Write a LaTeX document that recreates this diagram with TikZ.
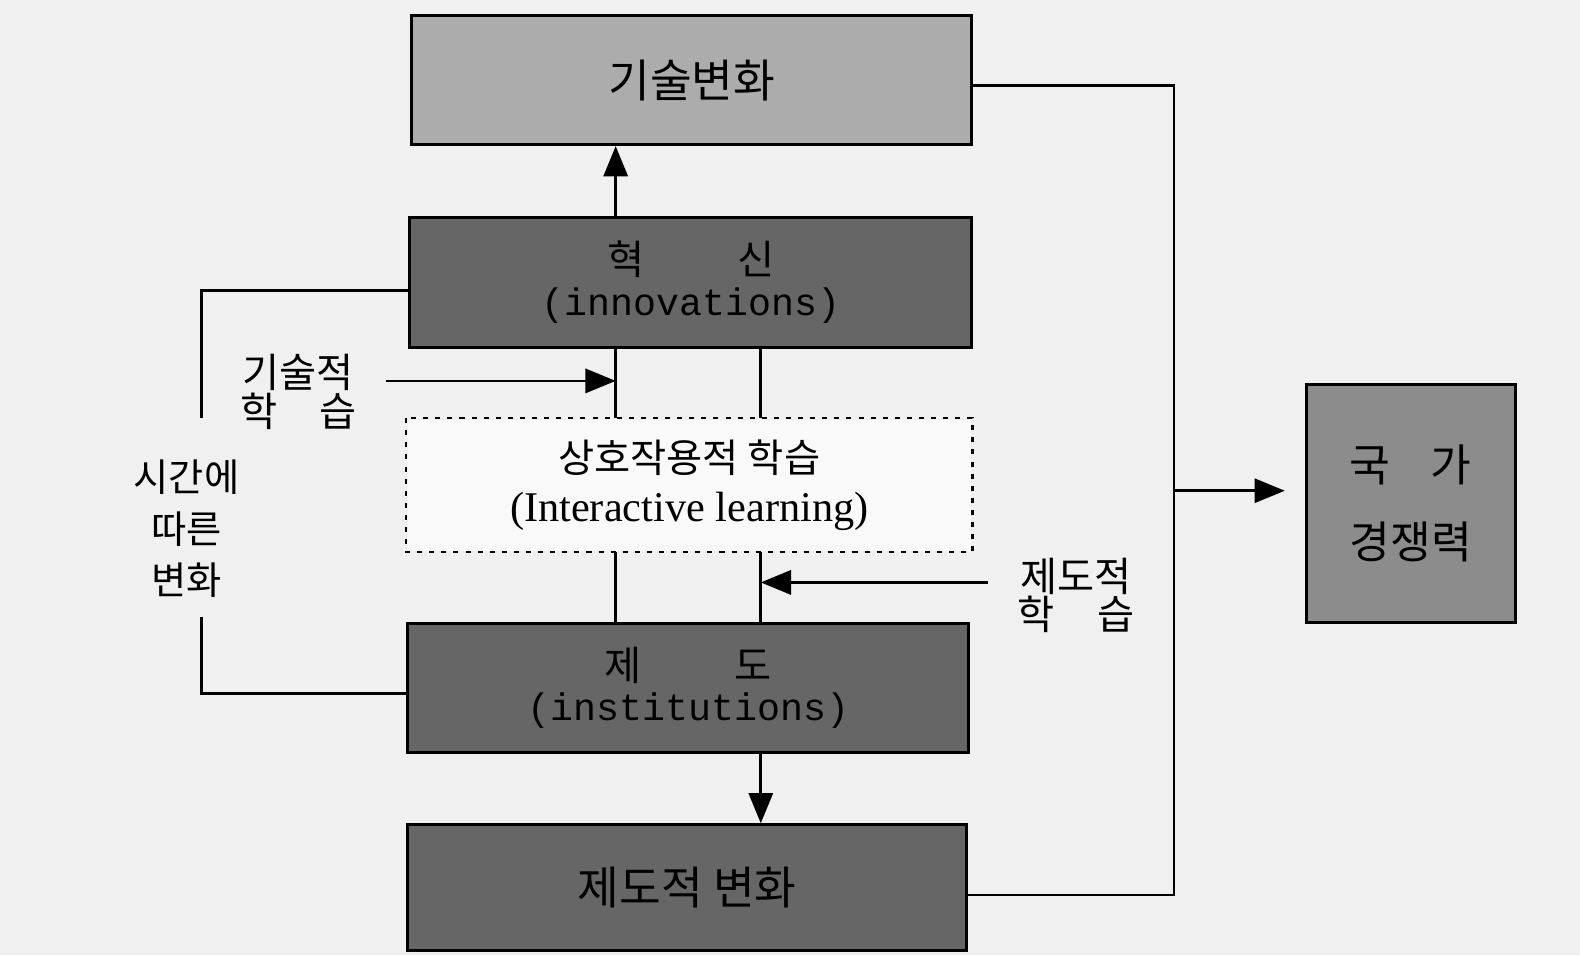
\documentclass[tikz,border=0pt]{standalone}
\usepackage{fontspec}
\setmainfont{Liberation Serif}
\newfontfamily\kr{Noto Sans CJK KR}
\newfontfamily\monof{Liberation Mono}
\usetikzlibrary{arrows.meta}
\definecolor{bgc}{RGB}{240,240,240}
\definecolor{lightbox}{RGB}{172,172,172}
\definecolor{darkbox}{RGB}{102,102,102}
\definecolor{midbox}{RGB}{140,140,140}
\begin{document}
\begin{tikzpicture}[x=1pt,y=-1pt,
  box/.style={draw=black, line width=3pt, anchor=north west, inner sep=0pt, align=center, text=black},
  conn/.style={draw=black, line width=2.6pt},
  arr/.style={conn, -{Triangle[length=30pt,width=24pt]}},
  lbl/.style={align=center, inner sep=0pt}
]
\fill[bgc] (0,0) rectangle (1568,948);
\useasboundingbox (0,0) rectangle (1568,948);

% boxes
\node[box, fill=lightbox, minimum width=556pt, minimum height=128pt, font=\kr\fontsize{45}{50}\selectfont] (tc) at (407,14) {기술변화};
\node[box, fill=darkbox, minimum width=558pt, minimum height=129pt, font=\fontsize{38}{40}\selectfont] (inn) at (405,214)
  {{\kr\fontsize{40}{40}\selectfont 혁\hspace{92pt}신}\\{\monof (innovations)}};
\node[box, draw=none, fill=white!60!bgc, minimum width=559pt, minimum height=130pt, font=\fontsize{42}{48}\selectfont] (il) at (403,415)
  {{\kr\fontsize{39}{48}\selectfont 상호작용적 학습}\\(Interactive learning)};
\draw[line width=2.5pt, dash pattern=on 5pt off 7pt] (il.north west) rectangle (il.south east);
\node[box, fill=darkbox, minimum width=557pt, minimum height=128pt, font=\fontsize{38}{40}\selectfont] (ins) at (403,617)
  {{\kr\fontsize{40}{40}\selectfont 제\hspace{92pt}도}\\{\monof (institutions)}};
\node[box, fill=darkbox, minimum width=555pt, minimum height=125pt, font=\kr\fontsize{45}{50}\selectfont] (ic) at (403,817) {제도적 변화};
\node[box, fill=midbox, minimum width=207pt, minimum height=236pt, font=\kr\fontsize{44}{76}\selectfont] (nc) at (1295,380)
  {국\hspace{40pt}가\\경쟁력};

% labels
\node[lbl, font=\kr\fontsize{40}{38}\selectfont] (tl) at (296,389) {기술적\\학\hspace{42pt}습};
\node[lbl, font=\kr\fontsize{40}{38}\selectfont] (il2) at (1068,591) {제도적\\학\hspace{42pt}습};
\node[lbl, font=\kr\fontsize{38}{51}\selectfont] (tv) at (185,525) {시간에\\따른\\변화};

% coordinates
\coordinate (xa) at (611,0);
\coordinate (xb) at (755,0);
\coordinate (tls) at (383,378);
\coordinate (ils) at (980,578);
\coordinate (lt) at (200,415);
\coordinate (lb) at (200,612);
\coordinate (rx) at (1165,487);

% vertical connectors
\draw[arr] (inn.north -| xa) -- (tc.south -| xa);
\draw[conn] (inn.south -| xa) -- (il.north -| xa);
\draw[conn] (inn.south -| xb) -- (il.north -| xb);
\draw[conn] (il.south -| xa) -- (ins.north -| xa);
\draw[conn] (il.south -| xb) -- (ins.north -| xb);
\draw[arr] (ins.south -| xb) -- (ic.north -| xb);

% learning arrows
\draw[arr] (tls) -- (tls -| xa);
\draw[arr] (ils) -- (ils -| xb);

% left feedback loop
\draw[conn] (inn.west |- 0,288) -| (lt);
\draw[conn] (lb) |- (ins.west |- 0,688);

% right loop
\draw[conn] (tc.east |- 0,85) -| (rx) |- (ic.east |- 0,888);
\draw[arr, shorten >=20pt] (rx) -- (nc.west |- rx);
\end{tikzpicture}
\end{document}
